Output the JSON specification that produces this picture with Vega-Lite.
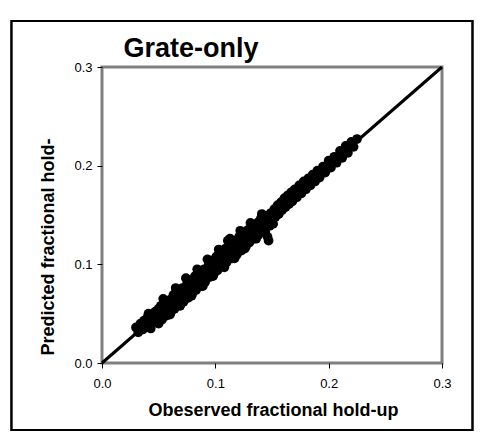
{
  "$schema": "https://vega.github.io/schema/vega-lite/v6.json",
  "width": 340,
  "height": 296,
  "autosize": "none",
  "padding": {"left": 102, "top": 67, "right": 38, "bottom": 81},
  "background": "white",
  "config": {
    "font": "Liberation Sans",
    "view": {"stroke": "#808080", "strokeWidth": 3},
    "axis": {
      "grid": false,
      "domain": false,
      "labelFlush": false,
      "labelFont": "Liberation Sans",
      "labelFontSize": 13,
      "labelColor": "black",
      "tickSize": 5,
      "tickColor": "black",
      "titleFont": "Liberation Sans",
      "titleFontSize": 18,
      "titleFontWeight": "bold",
      "titleColor": "black"
    },
    "axisX": {"labelPadding": 9},
    "axisY": {"labelPadding": 5}
  },
  "title": {
    "text": "Grate-only",
    "anchor": "start",
    "fontSize": 27,
    "fontWeight": "bold",
    "color": "black",
    "font": "Liberation Sans",
    "dx": 113,
    "dy": 47
  },
  "datasets": {
    "line": [{"obs": 0, "pred": 0}, {"obs": 0.3, "pred": 0.3}],
    "pts": [
      {"obs": 0.030, "pred": 0.036}, {"obs": 0.032, "pred": 0.031}, {"obs": 0.034, "pred": 0.040}, {"obs": 0.036, "pred": 0.034},
      {"obs": 0.037, "pred": 0.043}, {"obs": 0.039, "pred": 0.037}, {"obs": 0.040, "pred": 0.046}, {"obs": 0.042, "pred": 0.040},
      {"obs": 0.043, "pred": 0.035}, {"obs": 0.044, "pred": 0.049}, {"obs": 0.046, "pred": 0.043}, {"obs": 0.047, "pred": 0.052},
      {"obs": 0.048, "pred": 0.041}, {"obs": 0.050, "pred": 0.055}, {"obs": 0.051, "pred": 0.046}, {"obs": 0.052, "pred": 0.058},
      {"obs": 0.053, "pred": 0.044}, {"obs": 0.055, "pred": 0.050}, {"obs": 0.056, "pred": 0.061}, {"obs": 0.057, "pred": 0.048},
      {"obs": 0.058, "pred": 0.054}, {"obs": 0.060, "pred": 0.064}, {"obs": 0.061, "pred": 0.052}, {"obs": 0.062, "pred": 0.058},
      {"obs": 0.063, "pred": 0.069}, {"obs": 0.064, "pred": 0.055}, {"obs": 0.066, "pred": 0.062}, {"obs": 0.067, "pred": 0.072},
      {"obs": 0.068, "pred": 0.059}, {"obs": 0.070, "pred": 0.066}, {"obs": 0.071, "pred": 0.076}, {"obs": 0.072, "pred": 0.062},
      {"obs": 0.073, "pred": 0.070}, {"obs": 0.075, "pred": 0.080}, {"obs": 0.076, "pred": 0.066}, {"obs": 0.077, "pred": 0.074},
      {"obs": 0.078, "pred": 0.084}, {"obs": 0.080, "pred": 0.071}, {"obs": 0.081, "pred": 0.078}, {"obs": 0.082, "pred": 0.088},
      {"obs": 0.083, "pred": 0.074}, {"obs": 0.085, "pred": 0.082}, {"obs": 0.086, "pred": 0.092}, {"obs": 0.087, "pred": 0.078},
      {"obs": 0.088, "pred": 0.086}, {"obs": 0.090, "pred": 0.095}, {"obs": 0.091, "pred": 0.082}, {"obs": 0.092, "pred": 0.090},
      {"obs": 0.094, "pred": 0.099}, {"obs": 0.095, "pred": 0.087}, {"obs": 0.096, "pred": 0.094}, {"obs": 0.097, "pred": 0.104},
      {"obs": 0.099, "pred": 0.091}, {"obs": 0.100, "pred": 0.098}, {"obs": 0.101, "pred": 0.108}, {"obs": 0.102, "pred": 0.094},
      {"obs": 0.104, "pred": 0.102}, {"obs": 0.105, "pred": 0.112}, {"obs": 0.106, "pred": 0.098}, {"obs": 0.107, "pred": 0.105},
      {"obs": 0.109, "pred": 0.116}, {"obs": 0.110, "pred": 0.102}, {"obs": 0.111, "pred": 0.124}, {"obs": 0.112, "pred": 0.109},
      {"obs": 0.114, "pred": 0.120}, {"obs": 0.115, "pred": 0.106}, {"obs": 0.116, "pred": 0.113}, {"obs": 0.118, "pred": 0.124},
      {"obs": 0.119, "pred": 0.110}, {"obs": 0.120, "pred": 0.117}, {"obs": 0.121, "pred": 0.128}, {"obs": 0.123, "pred": 0.114},
      {"obs": 0.124, "pred": 0.121}, {"obs": 0.125, "pred": 0.131}, {"obs": 0.127, "pred": 0.118}, {"obs": 0.128, "pred": 0.125},
      {"obs": 0.129, "pred": 0.135}, {"obs": 0.130, "pred": 0.122}, {"obs": 0.132, "pred": 0.129}, {"obs": 0.133, "pred": 0.138},
      {"obs": 0.134, "pred": 0.126}, {"obs": 0.135, "pred": 0.133}, {"obs": 0.137, "pred": 0.142}, {"obs": 0.138, "pred": 0.130},
      {"obs": 0.139, "pred": 0.137}, {"obs": 0.140, "pred": 0.146}, {"obs": 0.142, "pred": 0.134}, {"obs": 0.143, "pred": 0.141},
      {"obs": 0.145, "pred": 0.149}, {"obs": 0.146, "pred": 0.128}, {"obs": 0.147, "pred": 0.124}, {"obs": 0.148, "pred": 0.139},
      {"obs": 0.149, "pred": 0.152}, {"obs": 0.150, "pred": 0.144}, {"obs": 0.152, "pred": 0.156}, {"obs": 0.153, "pred": 0.148},
      {"obs": 0.155, "pred": 0.160}, {"obs": 0.156, "pred": 0.151}, {"obs": 0.158, "pred": 0.163}, {"obs": 0.159, "pred": 0.155},
      {"obs": 0.161, "pred": 0.167}, {"obs": 0.162, "pred": 0.158}, {"obs": 0.164, "pred": 0.170}, {"obs": 0.165, "pred": 0.161},
      {"obs": 0.167, "pred": 0.173}, {"obs": 0.168, "pred": 0.164}, {"obs": 0.170, "pred": 0.176}, {"obs": 0.172, "pred": 0.168},
      {"obs": 0.174, "pred": 0.180}, {"obs": 0.176, "pred": 0.172}, {"obs": 0.178, "pred": 0.184}, {"obs": 0.180, "pred": 0.176},
      {"obs": 0.182, "pred": 0.187}, {"obs": 0.184, "pred": 0.180}, {"obs": 0.186, "pred": 0.191}, {"obs": 0.188, "pred": 0.184},
      {"obs": 0.190, "pred": 0.195}, {"obs": 0.192, "pred": 0.188}, {"obs": 0.195, "pred": 0.199}, {"obs": 0.197, "pred": 0.193},
      {"obs": 0.200, "pred": 0.205}, {"obs": 0.202, "pred": 0.198}, {"obs": 0.205, "pred": 0.209}, {"obs": 0.207, "pred": 0.203},
      {"obs": 0.210, "pred": 0.215}, {"obs": 0.212, "pred": 0.208}, {"obs": 0.215, "pred": 0.220}, {"obs": 0.217, "pred": 0.213},
      {"obs": 0.220, "pred": 0.224}, {"obs": 0.222, "pred": 0.219}, {"obs": 0.225, "pred": 0.227},
      {"obs": 0.041, "pred": 0.050}, {"obs": 0.054, "pred": 0.065}, {"obs": 0.065, "pred": 0.076}, {"obs": 0.074, "pred": 0.086},
      {"obs": 0.084, "pred": 0.095}, {"obs": 0.093, "pred": 0.105}, {"obs": 0.103, "pred": 0.115}, {"obs": 0.113, "pred": 0.126},
      {"obs": 0.122, "pred": 0.134}, {"obs": 0.131, "pred": 0.142}, {"obs": 0.141, "pred": 0.151},
      {"obs": 0.050, "pred": 0.040}, {"obs": 0.060, "pred": 0.049}, {"obs": 0.069, "pred": 0.058}, {"obs": 0.079, "pred": 0.068},
      {"obs": 0.089, "pred": 0.078}, {"obs": 0.098, "pred": 0.088}, {"obs": 0.108, "pred": 0.097}, {"obs": 0.117, "pred": 0.106},
      {"obs": 0.126, "pred": 0.116}, {"obs": 0.136, "pred": 0.126}, {"obs": 0.144, "pred": 0.133}, {"obs": 0.151, "pred": 0.141}
    ]
  },
  "layer": [
    {
      "data": {"name": "line"},
      "mark": {"type": "rect", "filled": false, "color": "black", "strokeWidth": 2},
      "encoding": {
        "x": {
          "datum": -0.0799, "type": "quantitative",
          "scale": {"domain": [0, 0.3], "nice": false},
          "axis": {
            "title": "Obeserved fractional hold-up",
            "values": [0, 0.1, 0.2, 0.3],
            "format": ".1f",
            "titleX": 171,
            "titleY": 52,
            "titleBaseline": "alphabetic"
          }
        },
        "x2": {"datum": 0.3269},
        "y": {
          "datum": -0.0679, "type": "quantitative",
          "scale": {"domain": [0, 0.3], "nice": false},
          "axis": {
            "title": "Predicted fractional hold-",
            "values": [0, 0.1, 0.2, 0.3],
            "format": ".1f",
            "titleX": -49,
            "titleY": 179.5,
            "titleBaseline": "alphabetic"
          }
        },
        "y2": {"datum": 0.3466}
      }
    },
    {
      "data": {"name": "line"},
      "mark": {"type": "line", "color": "black", "strokeWidth": 3},
      "encoding": {
        "x": {"field": "obs", "type": "quantitative"},
        "y": {"field": "pred", "type": "quantitative"}
      }
    },
    {
      "data": {"name": "pts"},
      "mark": {"type": "circle", "color": "black", "opacity": 1, "size": 95},
      "encoding": {
        "x": {"field": "obs", "type": "quantitative"},
        "y": {"field": "pred", "type": "quantitative"}
      }
    }
  ]
}
